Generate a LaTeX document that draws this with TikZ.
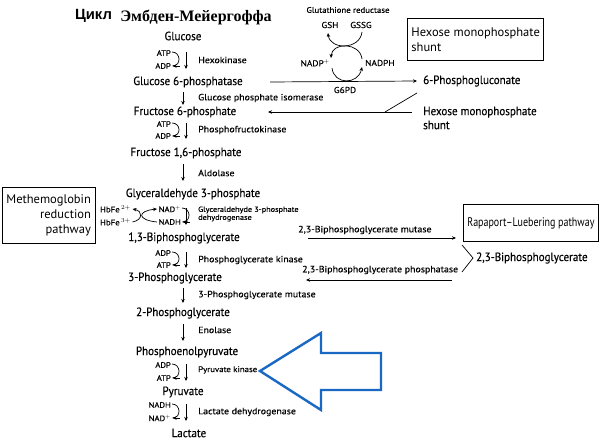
\documentclass[tikz,border=0pt]{standalone}
\usepackage{fontspec}
\setmainfont{PT Sans}
\newfontfamily\serifb{Liberation Serif}
\newfontfamily\sansb{Liberation Sans}
\newfontfamily\metf[FakeStretch=0.92,FakeBold=0.3]{PT Sans}
\newfontfamily\enzf[FakeStretch=1.1,FakeBold=0.3]{PT Sans}
\newfontfamily\cndf[FakeStretch=0.8]{PT Sans}
\usetikzlibrary{arrows.meta,calc}
\definecolor{blueA}{RGB}{24,104,196}
\begin{document}
\begin{tikzpicture}[x=1pt,y=-1pt,
  met/.style={font=\metf\fontsize{12}{13}\selectfont, inner sep=0pt},
  enz/.style={font=\enzf\fontsize{9}{10}\selectfont, inner sep=0pt, anchor=west},
  cof/.style={font=\enzf\fontsize{7.8}{8}\selectfont, inner sep=0pt, anchor=east},
  bx/.style={draw, line width=0.8pt, inner sep=4pt},
  ln/.style={line width=0.7pt},
  arr/.style={line width=0.7pt, -{Stealth[length=4pt,width=3.5pt]}},
  blu/.style={draw=blueA, line width=2.4pt, line join=miter}]
\useasboundingbox (0,0) rectangle (604,441);
\fill[white] (0,0) rectangle (604,441);

% title
\node[inner sep=0pt, font=\sansb\bfseries\fontsize{14.8}{16}\selectfont] (t1) at (93.5,16) {Цикл};
\node[inner sep=0pt, font=\serifb\bfseries\fontsize{16}{17}\selectfont] (t2) at (196,17) {Эмбден-Мейергоффа};

% metabolites
\node[met] (glc) at (183,36) {Glucose};
\node[met] (g6p) at (188,82) {Glucose 6-phosphatase};
\node[met] (f6p) at (185,112) {Fructose 6-phosphate};
\node[met] (f16) at (186,153) {Fructose 1,6-phosphate};
\node[met] (gap) at (193,194) {Glyceraldehyde 3-phosphate};
\node[met] (bpg) at (184,238) {1,3-Biphosphoglycerate};
\node[met] (pg3) at (175,278) {3-Phosphoglycerate};
\node[met] (pg2) at (183,313) {2-Phosphoglycerate};
\node[met] (pep) at (187,352) {Phosphoenolpyruvate};
\node[met] (pyr) at (183,392) {Pyruvate};
\node[met] (lac) at (189,433) {Lactate};

% enzymes
\node[enz] (e1) at (198,60) {Hexokinase};
\node[enz] (e2) at (198,98) {Glucose phosphate isomerase};
\node[enz] (e3) at (198,130) {Phosphofructokinase};
\node[enz] (e4) at (198,173) {Aldolase};
\node[enz, align=left, font=\enzf\fontsize{7.5}{8}\selectfont] (e5) at (198,214) {Glyceraldehyde 3-phosphate\\dehydrogenase};
\node[enz] (e6) at (198,260) {Phosphoglycerate kinase};
\node[enz] (e7) at (198,295) {3-Phosphoglycerate mutase};
\node[enz] (e8) at (198,330) {Enolase};
\node[enz, font=\enzf\fontsize{8}{9}\selectfont] (e9) at (198,370) {Pyruvate kinase};
\node[enz] (e10) at (198,412) {Lactate dehydrogenase};

% cofactors
\node[cof] (c1a) at (171,53) {ATP};
\node[cof] (c1b) at (171,66) {ADP};
\node[cof] (c2a) at (171,124) {ATP};
\node[cof] (c2b) at (171,136) {ADP};
\node[cof] (c3a) at (181,209) {NAD$^{+}$};
\node[cof] (c3b) at (181,222) {NADH};
\node[cof] (c4a) at (171,253) {ADP};
\node[cof] (c4b) at (171,265) {ATP};
\node[cof] (c5a) at (171,365) {ADP};
\node[cof] (c5b) at (171,378) {ATP};
\node[cof] (c6a) at (171,405) {NADH};
\node[cof] (c6b) at (171,418) {NAD$^{+}$};
\node[cof, font=\enzf\fontsize{8}{9}\selectfont] (hb2) at (131,209) {HbFe$^{\,2+}$};
\node[cof, font=\enzf\fontsize{8}{9}\selectfont] (hb3) at (131,222) {HbFe$^{\,3+}$};

% cofactor curved arrows with straight arrow
\foreach \a/\b in {c1a/c1b, c2a/c2b, c4a/c4b, c5a/c5b, c6a/c6b, c3a/c3b}{
  \draw[ln] ($(\a.east)+(1,-1)$) .. controls +(9,0) and +(9,0) .. ($(\b.east)+(1.5,0)$);
  \draw[arr] ($(\b.east)+(9,0)$) -- ($(\b.east)+(1.5,0)$);
}
\foreach \ya/\yb in {52/69, 123/139, 252/268, 364/381, 404/421, 208/225}{
  \draw[arr] (186,\ya) -- (186,\yb);
}

% HbFe / NAD crossing
\draw[arr] ($(hb3.east)+(1.5,0)$) .. controls (143,220) and (143,211) .. ($(hb2.east)+(1.5,0)$);
\draw[arr] ($(c3b.west)+(-1.5,0)$) .. controls (137,220) and (137,211) .. ($(c3a.west)+(-1.5,0)$);

% straight down arrows
\draw[arr] (183,92) -- (183,105);
\draw[arr] (183,164) -- (183,181);
\draw[arr] (183,288) -- (183,303);
\draw[arr] (183,324) -- (183,341);

% Hexose monophosphate shunt
\node[bx, anchor=north west, align=left, font=\fontsize{12.5}{15}\selectfont, minimum width=136pt, minimum height=42pt] (hmsbox) at (407,18) {Hexose monophosphate\\shunt};
\node[met, anchor=west] (pgl) at (423,81) {6-Phosphogluconate};
\node[met, anchor=west, align=left, font=\metf\fontsize{12}{14}\selectfont] (hms) at (423,118) {Hexose monophosphate\\shunt};
\coordinate (s1) at (270,82);
\draw[arr] (s1) -- ($(pgl.west)+(-6,0)$);
\coordinate (s2) at (412,112);
\coordinate (s3) at (268,112);
\draw[arr] (s2) -- (s3);
\coordinate (d1) at (385,112);
\coordinate (d2) at (417,93);
\draw[ln] (d1) -- (d2);

% NADP cycle
\node[enz, anchor=center, font=\enzf\fontsize{8}{9}\selectfont] (gr) at (348,10) {Glutathione reductase};
\node[cof, anchor=center, font=\enzf\fontsize{8.5}{9}\selectfont] (gsh) at (330,25) {GSH};
\node[cof, anchor=center, font=\enzf\fontsize{8.5}{9}\selectfont] (gssg) at (361,25) {GSSG};
\node[cof, anchor=east, font=\enzf\fontsize{8.5}{9}\selectfont] (nadp) at (330,63) {NADP$^{+}$};
\node[cof, anchor=west, font=\enzf\fontsize{8.5}{9}\selectfont] (nadph) at (365,63) {NADPH};
\node[cof, anchor=center, font=\enzf\fontsize{8.5}{9}\selectfont] (g6pd) at (345,90) {G6PD};
\draw[arr] (362,32) .. controls (360,50) and (330,50) .. (328,33);
\draw[arr] (362,59) .. controls (360,42) and (332,42) .. (331,58);
\draw[arr] (332,68) .. controls (334,85) and (358,85) .. (362,67);

% Methemoglobin box
\node[bx, anchor=north west, align=right, font=\fontsize{12.5}{15}\selectfont, minimum width=88pt, minimum height=56pt] (mbox) at (2,187) {Methemoglobin\\reduction\\pathway};

% Rapaport-Luebering
\node[bx, anchor=north west, font=\cndf\fontsize{12.5}{14}\selectfont, minimum width=131pt, minimum height=37pt] (rlbox) at (463,204) {Rapaport–Luebering pathway};
\node[met, anchor=west] (bpg23) at (476,258) {2,3-Biphosphoglycerate};
\node[enz] (mut) at (298,230) {2,3-Biphosphoglycerate mutase};
\node[enz] (pho) at (302,270) {2,3-Biphosphoglycerate phosphatase};
\coordinate (m1) at (308,238);
\coordinate (m2) at (456,238);
\draw[arr] (m1) -- (m2);
\coordinate (p1) at (452,280);
\coordinate (p2) at (306,280);
\draw[arr] (p1) -- (p2);
\coordinate (v1) at (462,245);
\coordinate (v2) at (473,258);
\coordinate (v3) at (462,272);
\draw[ln] (v1) -- (v2) -- (v3);

% blue arrow
\draw[blu] (260,371) -- (321,333) -- (321,353) -- (381,353) -- (381,390) -- (321,390) -- (321,410) -- cycle;
\end{tikzpicture}
\end{document}
